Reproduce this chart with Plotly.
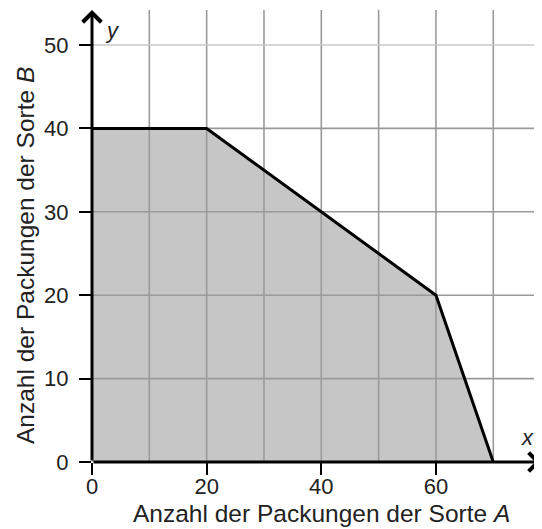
import plotly.graph_objects as go

# Data
region_x = [0, 0, 20, 60, 70]
region_y = [0, 40, 40, 20, 0]
boundary_x = [0, 20, 60, 70]
boundary_y = [40, 40, 20, 0]
x_grid = [10, 20, 30, 40, 50, 60, 70]
y_grid = [10, 20, 30, 40, 50]
x_ticks = [0, 20, 40, 60]
y_ticks = [0, 10, 20, 30, 40, 50]

X_MAX = 78.5
Y_MAX = 54.2
FONT = "Liberation Sans, Arial, sans-serif"
TXT = "#222222"
FS = 22
FS_T = 24.5

fig = go.Figure()

fig.add_trace(go.Scatter(x=region_x + [region_x[0]], y=region_y + [region_y[0]],
                         fill="toself", fillcolor="#c6c6c6", mode="lines",
                         line=dict(width=0), hoverinfo="skip", showlegend=False))

# grid lines drawn above the fill
gx, gy = [], []
for v in x_grid:
    gx += [v, v, None]
    gy += [0, Y_MAX, None]
for v in y_grid[:-1]:
    gx += [0, X_MAX, None]
    gy += [v, v, None]
fig.add_trace(go.Scatter(x=gx, y=gy, mode="lines", line=dict(color="#9a9a9a", width=1.6),
                         hoverinfo="skip", showlegend=False))
fig.add_trace(go.Scatter(x=[0, X_MAX], y=[y_grid[-1], y_grid[-1]], mode="lines",
                         line=dict(color="#c8c8c8", width=1.6),
                         hoverinfo="skip", showlegend=False))

fig.add_trace(go.Scatter(x=boundary_x, y=boundary_y, mode="lines",
                         line=dict(color="black", width=3),
                         hoverinfo="skip", showlegend=False))

# axes arrows
fig.add_annotation(x=X_MAX - 0.2, y=0, ax=0, ay=0, xref="x", yref="y", axref="x", ayref="y",
                   text="", showarrow=True, arrowhead=4, arrowwidth=3, arrowsize=1.2,
                   arrowcolor="black", standoff=0)
fig.add_annotation(x=0, y=Y_MAX, ax=0, ay=0, xref="x", yref="y", axref="x", ayref="y",
                   text="", showarrow=True, arrowhead=4, arrowwidth=3, arrowsize=1.2,
                   arrowcolor="black", standoff=0)

fig.add_annotation(x=75.9, y=2.9, xref="x", yref="y", text="<i>x</i>", showarrow=False,
                   font=dict(family=FONT, size=FS, color=TXT))
fig.add_annotation(x=3.5, y=51.8, xref="x", yref="y", text="<i>y</i>", showarrow=False,
                   font=dict(family=FONT, size=FS, color=TXT))

fig.add_annotation(x=(321 - 92) / 450, y=0, xref="paper", yref="paper", yshift=-51,
                   xanchor="center", yanchor="middle",
                   text="Anzahl der Packungen der Sorte <i>A</i>", showarrow=False,
                   font=dict(family=FONT, size=FS_T, color=TXT))
fig.add_annotation(x=0, y=(462 - 256) / 452, xref="paper", yref="paper", xshift=-67,
                   xanchor="center", yanchor="middle",
                   text="Anzahl der Packungen der Sorte <i>B</i>", showarrow=False,
                   textangle=-90, font=dict(family=FONT, size=FS_T, color=TXT))

fig.update_layout(
    width=534, height=521,
    margin=dict(l=84, r=0, t=2, b=67),
    paper_bgcolor="white", plot_bgcolor="white",
    xaxis=dict(range=[0, X_MAX], showgrid=False, zeroline=False, showline=False,
               tickmode="array", tickvals=x_ticks, ticks="outside", ticklen=12,
               tickwidth=2, tickcolor="black", ticklabelstandoff=-7,
               tickfont=dict(family=FONT, size=FS, color=TXT)),
    yaxis=dict(range=[0, Y_MAX], showgrid=False, zeroline=False, showline=False,
               tickmode="array", tickvals=y_ticks, ticks="outside", ticklen=12,
               tickwidth=2, tickcolor="black", ticklabelstandoff=6,
               tickfont=dict(family=FONT, size=FS, color=TXT)),
)

fig.write_html("out.html")
